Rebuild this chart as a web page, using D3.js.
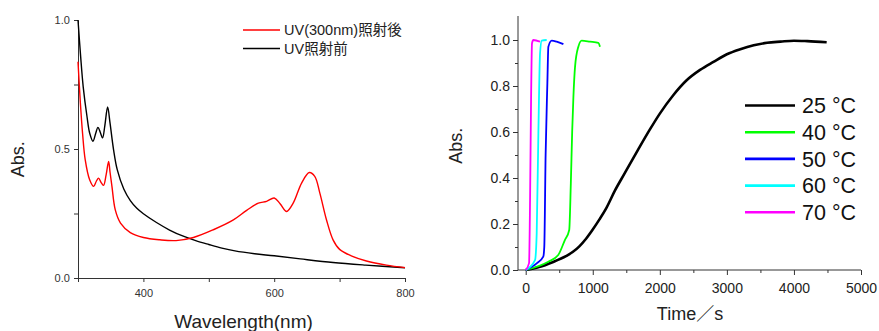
<!DOCTYPE html>
<html>
<head>
<meta charset="utf-8">
<script src="https://cdn.jsdelivr.net/npm/d3@7"></script>
<style>
  body { margin: 0; background: #fff; }
  svg { font-family: "Liberation Sans", Arial, "Noto Sans CJK JP", sans-serif; }
</style>
</head>
<body>
<svg id="chart" width="879" height="331"></svg>
<script>
// left panel: absorption spectra, [wavelength nm, abs]
const beforeUV = [
  [300, 1.0], [304, 0.86], [308, 0.74], [313.7, 0.627], [318, 0.56], [322.9, 0.53],
  [327, 0.56], [330.5, 0.584], [334, 0.565], [337.6, 0.543], [341, 0.59], [345.3, 0.663],
  [349, 0.6], [354.4, 0.497], [360, 0.42], [370, 0.345], [380, 0.3], [390, 0.27],
  [400, 0.249], [420, 0.215], [440, 0.186], [460, 0.163], [480, 0.145], [500, 0.13],
  [520, 0.116], [540, 0.105], [570, 0.094], [600, 0.086], [640, 0.074], [690, 0.06],
  [740, 0.05], [800, 0.04]
];
const afterUV = [
  [300, 0.838], [303.6, 0.679], [307, 0.56], [311, 0.459], [317.8, 0.381], [324, 0.355],
  [328, 0.375], [331.5, 0.387], [335, 0.372], [339, 0.359], [343, 0.4], [346.8, 0.452],
  [349, 0.41], [351.9, 0.355], [357, 0.264], [365, 0.213], [380, 0.176], [400, 0.157],
  [425, 0.148], [450, 0.145], [476.5, 0.157], [507, 0.187], [537.6, 0.225], [557.9, 0.262],
  [575.7, 0.29], [588.4, 0.297], [600, 0.31], [609, 0.288], [619, 0.258], [629, 0.29],
  [641.9, 0.368], [653.6, 0.409], [662, 0.394], [669.8, 0.329], [680, 0.225], [690, 0.148],
  [700, 0.111], [720.7, 0.083], [741, 0.066], [771.6, 0.05], [800, 0.04]
];
const spectraNames = ["UV(300nm)照射後", "UV照射前"];
const spectraColors = ["#ff0000", "#000000"];

// right panel: kinetics, [time s, abs]
const kinLabels = ["25 °C", "40 °C", "50 °C", "60 °C", "70 °C"];
const kinColors = ["#000000", "#00ff00", "#0000ff", "#00ffff", "#ff00ff"];
const t25 = [
  [0, 0], [200, 0.013], [400, 0.034], [600, 0.06], [700, 0.078], [800, 0.103], [900, 0.136],
  [1000, 0.176], [1100, 0.22], [1200, 0.268], [1330, 0.345], [1475, 0.42], [1670, 0.52],
  [1850, 0.61], [2000, 0.68], [2200, 0.76], [2400, 0.825], [2600, 0.87], [2800, 0.905],
  [3000, 0.938], [3200, 0.96], [3400, 0.977], [3600, 0.988], [3800, 0.993], [4000, 0.997],
  [4200, 0.995], [4488, 0.99]
];
const t40 = [
  [0, 0], [337, 0.036], [485, 0.065], [584, 0.13], [649, 0.174], [673, 0.377],
  [693, 0.6], [711, 0.75], [736, 0.884], [785, 0.971], [835, 0.997], [959, 0.993], [1083, 0.988], [1108, 0.971]
];
const t50 = [
  [0, 0], [164, 0.029], [262, 0.058], [277, 0.1], [297, 0.5], [323, 0.812], [338, 0.971],
  [388, 0.997], [462, 0.993], [562, 0.982]
];
const t60 = [
  [0, 0], [139, 0.043], [164, 0.159], [189, 0.594], [214, 0.942], [239, 0.997], [313, 1.0]
];
const t70 = [
  [0, 0], [50, 0.03], [65, 0.304], [80, 0.739], [94, 0.986], [114, 1.0], [214, 0.993]
];
const kinSeries = [t25, t40, t50, t60, t70];

const svg = d3.select("#chart");

// ---------- left panel ----------
const xL = d3.scaleLinear().domain([300, 800]).range([78, 405]);
const yL = d3.scaleLinear().domain([0, 1]).range([278, 20]);

const gL = svg.append("g");

const xAxisL = gL.append("g")
  .attr("transform", `translate(0,${yL(0)})`)
  .call(d3.axisBottom(xL).tickValues([300, 400, 500, 600, 700, 800])
    .tickSize(4).tickSizeOuter(0)
    .tickFormat(d => d % 200 === 0 ? d : ""));
xAxisL.selectAll("text").attr("font-size", 11).attr("fill", "#333").attr("dy", "1.1em");

const yAxisL = gL.append("g")
  .attr("transform", `translate(${xL(300)},0)`)
  .call(d3.axisLeft(yL).tickValues([0, 0.25, 0.5, 0.75, 1])
    .tickSize(4).tickSizeOuter(0)
    .tickFormat(d => d % 0.5 === 0 ? d3.format(".1f")(d) : ""));
yAxisL.selectAll("text").attr("font-size", 11).attr("fill", "#333").attr("dx", "-0.1em");

[xAxisL, yAxisL].forEach(a => {
  a.select(".domain").attr("stroke", "#333");
  a.selectAll("line").attr("stroke", "#333");
});

const lineL = d3.line().x(d => xL(d[0])).y(d => yL(d[1])).curve(d3.curveCatmullRom.alpha(0.5));

gL.append("path").datum(beforeUV)
  .attr("d", lineL).attr("fill", "none").attr("stroke", spectraColors[1]).attr("stroke-width", 1.4);
gL.append("path").datum(afterUV)
  .attr("d", lineL).attr("fill", "none").attr("stroke", spectraColors[0]).attr("stroke-width", 1.4);

gL.append("text")
  .attr("transform", `translate(24,${yL(0.46)}) rotate(-90)`)
  .attr("text-anchor", "middle").attr("font-size", 18).attr("fill", "#222")
  .text("Abs.");
gL.append("text")
  .attr("x", (xL(300) + xL(800)) / 2 + 2).attr("y", 328)
  .attr("text-anchor", "middle").attr("font-size", 19).attr("fill", "#222")
  .text("Wavelength(nm)");

spectraNames.forEach((name, i) => {
  const y = 30 + i * 18.5;
  gL.append("line").attr("x1", 243).attr("x2", 280).attr("y1", y).attr("y2", y)
    .attr("stroke", spectraColors[i]).attr("stroke-width", 1.4);
  gL.append("text").attr("x", 284).attr("y", y).attr("dy", "0.36em")
    .attr("font-size", 14.5).attr("fill", "#222").text(name);
});

// ---------- right panel ----------
const xR = d3.scaleLinear().domain([0, 5000]).range([525.7, 861]);
const yR = d3.scaleLinear().domain([0, 1]).range([270, 40]);
const xStart = xR.invert(518);
const yTop = yR.invert(16);

const gR = svg.append("g");

const xAxisR = gR.append("g")
  .attr("transform", `translate(0,${yR(0)})`)
  .call(d3.axisBottom(xR).tickValues(d3.range(0, 5001, 500))
    .tickSize(5).tickSizeOuter(0)
    .tickFormat(d => d % 1000 === 0 ? d : ""));
xAxisR.select(".domain").attr("d", `M${xR(xStart)},0H${xR(5000)}`);
xAxisR.selectAll(".tick").filter(d => d % 1000 !== 0).select("line").attr("y2", 3);

const yAxisR = gR.append("g")
  .attr("transform", `translate(${xR(xStart)},0)`)
  .call(d3.axisLeft(yR).tickValues(d3.range(0, 11).map(i => i / 10))
    .tickSize(5).tickSizeOuter(0)
    .tickFormat(d => Math.round(d * 10) % 2 === 0 ? d3.format(".1f")(d) : ""));
yAxisR.select(".domain").attr("d", `M0,${yR(0)}V${yR(yTop)}`);
yAxisR.selectAll(".tick").filter(d => Math.round(d * 10) % 2 !== 0).select("line").attr("x2", -3);

[xAxisR, yAxisR].forEach(a => {
  a.selectAll("text").attr("font-size", 14).attr("fill", "#222");
  a.select(".domain").attr("stroke", "#333");
  a.selectAll("line").attr("stroke", "#333");
});
xAxisR.selectAll("text").attr("dy", "1.05em");

const lineR = d3.line().x(d => xR(d[0])).y(d => yR(d[1])).curve(d3.curveMonotoneX);

kinSeries.forEach((s, i) => {
  gR.append("path").datum(s)
    .attr("d", lineR).attr("fill", "none")
    .attr("stroke", kinColors[i]).attr("stroke-width", i === 0 ? 2.6 : 1.8);
});

gR.append("text")
  .attr("transform", `translate(462,${yR(0.54)}) rotate(-90)`)
  .attr("text-anchor", "middle").attr("font-size", 18).attr("fill", "#222")
  .text("Abs.");
gR.append("text")
  .attr("x", 690).attr("y", 320)
  .attr("text-anchor", "middle").attr("font-size", 18).attr("fill", "#222")
  .text("Time／s");

kinLabels.forEach((name, i) => {
  const y = 105.5 + i * 26.7;
  gR.append("line").attr("x1", 745).attr("x2", 795).attr("y1", y).attr("y2", y)
    .attr("stroke", kinColors[i]).attr("stroke-width", 2.6);
  gR.append("text").attr("x", 802).attr("y", y).attr("dy", "0.36em")
    .attr("font-size", 21.5).attr("fill", "#111").text(name);
});
</script>
</body>
</html>
